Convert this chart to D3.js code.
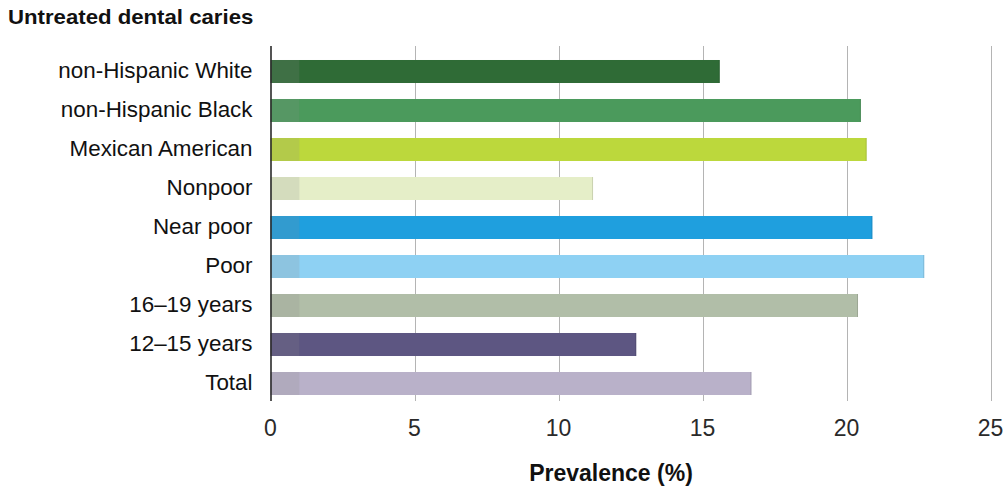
<!DOCTYPE html>
<html>
<head>
<meta charset="utf-8">
<script src="https://cdn.jsdelivr.net/npm/d3@7/dist/d3.min.js"></script>
<style>
  html, body { margin: 0; padding: 0; background: #fff; }
  svg { display: block; }
</style>
</head>
<body>
<svg id="chart" width="1007" height="489"></svg>
<script>
// ---- data ----
const categories = [
  "non-Hispanic White", "non-Hispanic Black", "Mexican American",
  "Nonpoor", "Near poor", "Poor",
  "16\u201319 years", "12\u201315 years", "Total"
];
const prevalence = [15.6, 20.5, 20.7, 11.2, 20.9, 22.7, 20.4, 12.7, 16.7];
const xTicks = [0, 5, 10, 15, 20, 25];
const title = "Untreated dental caries";
const xTitle = "Prevalence (%)";

// ---- styles ----
const palette = ["#2f6b36", "#4b9a5c", "#bcd83c", "#e5eec8", "#1f9fde",
                 "#8ed1f3", "#b1bea8", "#5d5682", "#b9b1c9"];

const svg = d3.select("#chart");

const x = d3.scaleLinear().domain([0, 25]).range([270.5, 990.5]);
const y = d3.scaleBand().domain(categories).range([52, 403]).paddingInner(0.41).paddingOuter(0.205);

const gridTop = 46, gridBottom = 401;

// gridlines
svg.append("g").selectAll("line")
  .data(xTicks.filter(d => d > 0))
  .join("line")
  .attr("x1", d => Math.round(x(d)) + 0.5)
  .attr("x2", d => Math.round(x(d)) + 0.5)
  .attr("y1", gridTop).attr("y2", gridBottom)
  .attr("stroke", "#b4b4b4").attr("stroke-width", 1);

// bars
const bars = svg.append("g");
bars.selectAll("rect.bar")
  .data(categories)
  .join("rect")
  .attr("class", "bar")
  .attr("x", x(0))
  .attr("y", d => y(d))
  .attr("width", (d, i) => x(prevalence[i]) - x(0))
  .attr("height", y.bandwidth())
  .attr("fill", (d, i) => palette[i]);

// subtle darker left section
bars.selectAll("rect.shade")
  .data(categories)
  .join("rect")
  .attr("class", "shade")
  .attr("x", x(0))
  .attr("y", d => y(d))
  .attr("width", x(1) - x(0))
  .attr("height", y.bandwidth())
  .attr("fill", "#8a8a8a")
  .attr("opacity", 0.18);

// thin darker right edge
bars.selectAll("line.edge")
  .data(categories)
  .join("line")
  .attr("class", "edge")
  .attr("x1", (d, i) => x(prevalence[i]) - 0.5)
  .attr("x2", (d, i) => x(prevalence[i]) - 0.5)
  .attr("y1", d => y(d))
  .attr("y2", d => y(d) + y.bandwidth())
  .attr("stroke", "#000").attr("stroke-opacity", 0.12);

// axis line
svg.append("line")
  .attr("x1", 271).attr("x2", 271)
  .attr("y1", gridTop).attr("y2", gridBottom)
  .attr("stroke", "#2a2a2a").attr("stroke-width", 1.6);

// category labels
svg.append("g").selectAll("text")
  .data(categories)
  .join("text")
  .attr("x", 252.5)
  .attr("y", d => y(d) + y.bandwidth() / 2 + 6.5)
  .attr("text-anchor", "end")
  .attr("font-family", "'Liberation Sans', Arial, sans-serif")
  .attr("font-size", 22.4)
  .attr("fill", "#111")
  .text(d => d);

// tick labels
svg.append("g").selectAll("text")
  .data(xTicks)
  .join("text")
  .attr("x", d => x(d))
  .attr("y", 436)
  .attr("text-anchor", "middle")
  .attr("font-family", "'Liberation Sans', Arial, sans-serif")
  .attr("font-size", 23)
  .attr("fill", "#2a2a2a")
  .text(d => d);

// axis title
svg.append("text")
  .attr("x", 611)
  .attr("y", 481)
  .attr("text-anchor", "middle")
  .attr("font-family", "'Liberation Sans', Arial, sans-serif")
  .attr("font-weight", "bold")
  .attr("font-size", 23)
  .attr("fill", "#111")
  .text(xTitle);

// chart title
svg.append("text")
  .attr("transform", `translate(8,24) scale(1.11,1)`)
  .attr("font-family", "'Liberation Sans', Arial, sans-serif")
  .attr("font-weight", "bold")
  .attr("font-size", 20)
  .attr("fill", "#111")
  .text(title);
</script>
</body>
</html>
